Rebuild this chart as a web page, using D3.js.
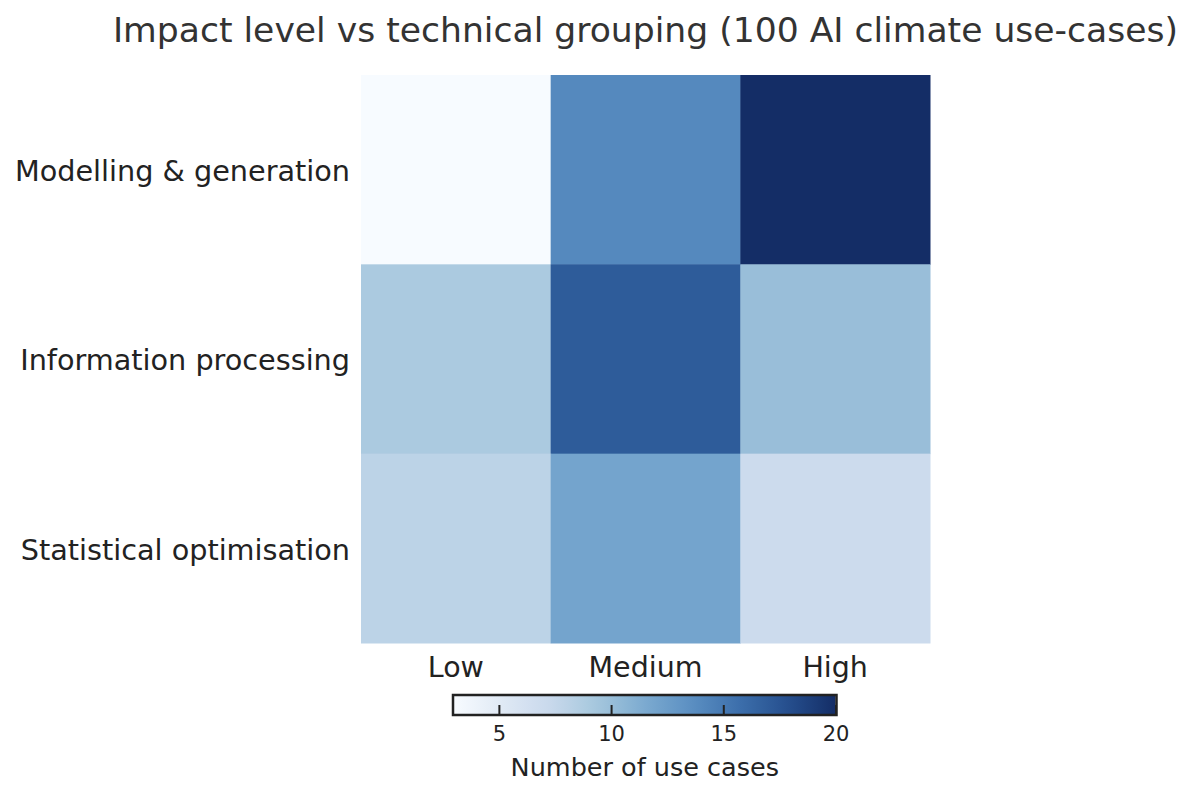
<!DOCTYPE html>
<html>
<head>
<meta charset="utf-8">
<title>Impact level vs technical grouping</title>
<script src="https://d3js.org/d3.v7.min.js"></script>
<style>
  body { margin: 0; background: #fff; }
  svg text { font-family: "DejaVu Sans", sans-serif; }
</style>
</head>
<body>
<svg id="chart" width="1184" height="794"></svg>
<script>
// data
var impactLevels = ["Low", "Medium", "High"];
var groupings = ["Modelling & generation", "Information processing", "Statistical optimisation"];
var counts = [
  [3, 14, 20],   // Modelling & generation
  [9, 17, 10],   // Information processing
  [8, 12, 7]     // Statistical optimisation
];
var colorTicks = [5, 10, 15, 20];

// "Blues"-like ramp, toned to the softer shades of the picture
var rampStops = ["#f7fbff", "#e0e9f5", "#c9d9ec", "#a5c7dd", "#7caad0",
                 "#5a8fc2", "#3c6eab", "#254f8e", "#142d66"];
var blues = d3.piecewise(d3.interpolateRgb, rampStops);

var svg = d3.select("#chart");

var cells = [];
groupings.forEach(function(g, i) {
  impactLevels.forEach(function(l, j) {
    cells.push({group: g, level: l, value: counts[i][j]});
  });
});
var allValues = cells.map(function(d) { return d.value; });

var x = d3.scaleBand().domain(impactLevels).range([361, 930]);
var y = d3.scaleBand().domain(groupings).range([75, 643]);
var color = d3.scaleSequential(blues).domain(d3.extent(allValues));

// heatmap cells
svg.append("g").selectAll("rect")
  .data(cells)
  .enter().append("rect")
  .attr("x", function(d) { return x(d.level); })
  .attr("y", function(d) { return y(d.group); })
  .attr("width", x.bandwidth() + 0.5)
  .attr("height", y.bandwidth() + 0.5)
  .attr("fill", function(d) { return color(d.value); });

// axes (no lines, no ticks, only labels)
var xAxis = svg.append("g")
  .attr("transform", "translate(0,643)")
  .call(d3.axisBottom(x).tickSize(0).tickPadding(34));
xAxis.select(".domain").remove();
xAxis.selectAll("text")
  .attr("font-size", 28.5)
  .attr("fill", "#222")
  .attr("dy", 0);

var yAxis = svg.append("g")
  .attr("transform", "translate(361,0)")
  .call(d3.axisLeft(y).tickSize(0).tickPadding(11));
yAxis.select(".domain").remove();
yAxis.selectAll("text")
  .attr("font-size", 28.7)
  .attr("fill", "#222")
  .attr("dy", "0.4em");

// title
svg.append("text")
  .attr("x", 645.5)
  .attr("y", 42)
  .attr("text-anchor", "middle")
  .attr("font-size", 34.6)
  .attr("fill", "#333")
  .text("Impact level vs technical grouping (100 AI climate use-cases)");

// colorbar
var cbX0 = 454, cbX1 = 835.5, cbY = 696, cbH = 18;
var cbScale = d3.scaleLinear().domain(color.domain()).range([cbX0, cbX1]);

var defs = svg.append("defs");
var grad = defs.append("linearGradient").attr("id", "cbGrad");
d3.range(0, 1.0001, 0.05).forEach(function(t) {
  grad.append("stop")
    .attr("offset", t)
    .attr("stop-color", blues(t));
});

svg.append("rect")
  .attr("x", cbX0).attr("y", cbY)
  .attr("width", cbX1 - cbX0).attr("height", cbH)
  .attr("fill", "url(#cbGrad)");

var cbAxis = svg.append("g")
  .attr("transform", "translate(0," + (cbY + cbH) + ")")
  .call(d3.axisBottom(cbScale).tickValues(colorTicks).tickSize(-9).tickPadding(21));
cbAxis.select(".domain").remove();
cbAxis.selectAll("line").attr("stroke", "#222").attr("stroke-width", 2);
cbAxis.selectAll("text")
  .attr("font-size", 21)
  .attr("fill", "#222")
  .attr("dy", 0)
  .attr("y", 27);

svg.append("rect")
  .attr("x", cbX0 - 1).attr("y", cbY - 1)
  .attr("width", cbX1 - cbX0 + 2).attr("height", cbH + 2)
  .attr("fill", "none")
  .attr("stroke", "#222")
  .attr("stroke-width", 2.5);

svg.append("text")
  .attr("x", (cbX0 + cbX1) / 2)
  .attr("y", 776)
  .attr("text-anchor", "middle")
  .attr("font-size", 25.5)
  .attr("fill", "#222")
  .text("Number of use cases");
</script>
</body>
</html>
